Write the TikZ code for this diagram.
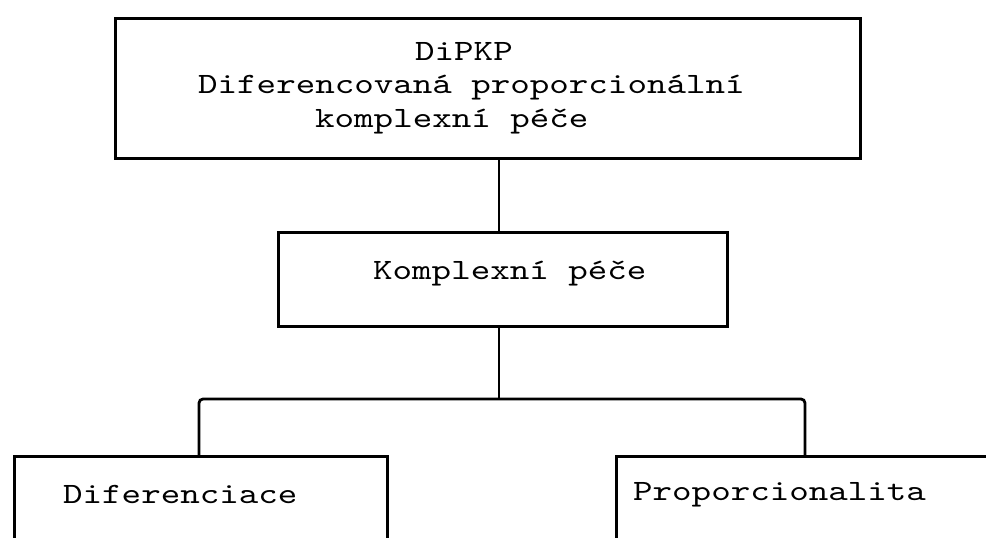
\documentclass[tikz,border=0pt]{standalone}
\usepackage{fontspec}
\newfontfamily\tw{lmmono10-regular.otf}[FakeStretch=1.26]
\begin{document}
\begin{tikzpicture}[x=1pt,y=-1pt,
  box/.style={draw, line width=3.2pt, inner sep=0pt, anchor=north west},
  conn/.style={line width=2.8pt},
  txt/.style={font=\tw\fontsize{29.5}{32}\selectfont, inner sep=0pt, anchor=base west}]
\useasboundingbox (0,0) rectangle (986,538);
\clip (0,0) rectangle (986,538);
% boxes
\node[box, minimum width=745pt, minimum height=140pt] (top) at (114,17) {};
\node[box, minimum width=449pt, minimum height=94pt] (mid) at (277,231) {};
\node[box, minimum width=373pt, minimum height=110pt] (left) at (13,455) {};
\node[box, minimum width=400pt, minimum height=110pt] (right) at (615,455) {};
% texts
\node[txt] (t1) at (415,60) {DiPKP};
\node[txt] (t2) at (198,93) {Diferencovaná proporcionální};
\node[txt] (t3) at (315,127) {komplexní péče};
\node[txt] (t4) at (373,279) {Komplexní péče};
\node[txt] (t5) at (63,503) {Diferenciace};
\node[txt] (t6) at (633,500) {Proporcionalita};
% connectors
\coordinate (j) at (499,399);
\coordinate (jl) at (199,399);
\coordinate (jr) at (805,399);
\draw[conn] (top.south -| j) -- (mid.north -| j);
\draw[conn] (mid.south -| j) -- (j);
\draw[conn, rounded corners=4pt] (jl |- left.north) -- (jl) -- (jr) -- (jr |- right.north);
\end{tikzpicture}
\end{document}
